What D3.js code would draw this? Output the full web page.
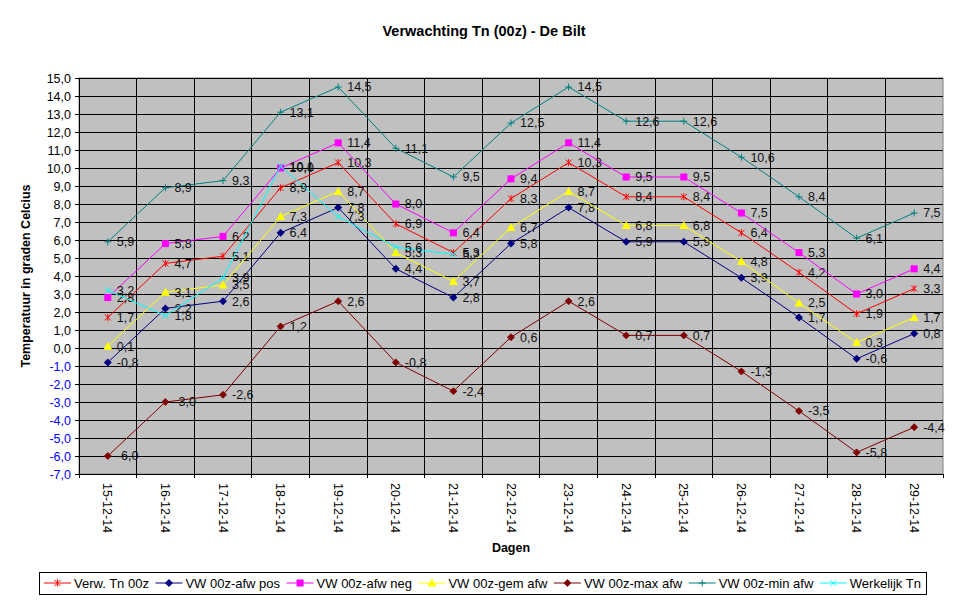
<!DOCTYPE html>
<html>
<head>
<meta charset="utf-8">
<script src="https://cdn.jsdelivr.net/npm/d3@7/dist/d3.min.js"></script>
<style>
  body { margin: 0; background: #fff; }
  text { font-family: Arial, "Liberation Sans", sans-serif; }
</style>
</head>
<body>
<div id="chart"></div>
<script>
const dagen = ["15-12-14", "16-12-14", "17-12-14", "18-12-14", "19-12-14", "20-12-14", "21-12-14",
  "22-12-14", "23-12-14", "24-12-14", "25-12-14", "26-12-14", "27-12-14", "28-12-14", "29-12-14"];

const verwTn    = [1.7, 4.7, 5.1, 8.9, 10.3, 6.9, 5.3, 8.3, 10.3, 8.4, 8.4, 6.4, 4.2, 1.9, 3.3];
const afwPos    = [-0.8, 2.2, 2.6, 6.4, 7.8, 4.4, 2.8, 5.8, 7.8, 5.9, 5.9, 3.9, 1.7, -0.6, 0.8];
const afwNeg    = [2.8, 5.8, 6.2, 10.0, 11.4, 8.0, 6.4, 9.4, 11.4, 9.5, 9.5, 7.5, 5.3, 3.0, 4.4];
const gemAfw    = [0.1, 3.1, 3.5, 7.3, 8.7, 5.3, 3.7, 6.7, 8.7, 6.8, 6.8, 4.8, 2.5, 0.3, 1.7];
const maxAfw    = [-6.0, -3.0, -2.6, 1.2, 2.6, -0.8, -2.4, 0.6, 2.6, 0.7, 0.7, -1.3, -3.5, -5.8, -4.4];
const minAfw    = [5.9, 8.9, 9.3, 13.1, 14.5, 11.1, 9.5, 12.5, 14.5, 12.6, 12.6, 10.6, 8.4, 6.1, 7.5];
const werkelijk = [3.2, 1.8, 3.9, 10.1, 7.3, 5.6, 5.2, null, null, null, null, null, null, null, null];

const yTicks = d3.range(-7, 16, 1);

const series = [
  { name: "Verw. Tn 00z",   values: verwTn,    color: "#ff0000", marker: "star" },
  { name: "VW 00z-afw pos", values: afwPos,    color: "#000080", marker: "diamond" },
  { name: "VW 00z-afw neg", values: afwNeg,    color: "#ff00ff", marker: "square" },
  { name: "VW 00z-gem afw", values: gemAfw,    color: "#ffff00", marker: "triangle" },
  { name: "VW 00z-max afw", values: maxAfw,    color: "#800000", marker: "dot" },
  { name: "VW 00z-min afw", values: minAfw,    color: "#008080", marker: "plus" },
  { name: "Werkelijk Tn",   values: werkelijk, color: "#00ffff", marker: "cross" }
];

const width = 969, height = 602;
const plot = { left: 79, right: 943, top: 78, bottom: 474 };

const svg = d3.select("#chart").append("svg")
  .attr("width", width)
  .attr("height", height);

const x = d3.scaleBand()
  .domain(dagen)
  .range([plot.left, plot.right]);

const y = d3.scaleLinear()
  .domain([-7, 15])
  .range([plot.bottom, plot.top]);

// Dutch number style: comma decimal, plain hyphen minus
const fmt = v => d3.format(".1f")(v).replace(".", ",").replace("\u2212", "-");

// plot background
svg.append("rect")
  .attr("x", plot.left)
  .attr("y", plot.top)
  .attr("width", plot.right - plot.left)
  .attr("height", plot.bottom - plot.top)
  .attr("fill", "#c0c0c0")
  .attr("stroke", "#808080");

// gridlines
svg.append("g")
  .selectAll("line")
  .data(yTicks.slice(1))
  .join("line")
  .attr("x1", plot.left)
  .attr("x2", plot.right)
  .attr("y1", d => y(d))
  .attr("y2", d => y(d))
  .attr("stroke", "#000")
  .attr("shape-rendering", "crispEdges");

svg.append("g")
  .selectAll("line")
  .data(dagen.slice(1))
  .join("line")
  .attr("x1", d => x(d))
  .attr("x2", d => x(d))
  .attr("y1", plot.top)
  .attr("y2", plot.bottom)
  .attr("stroke", "#000")
  .attr("shape-rendering", "crispEdges");

// y axis
const yAxis = svg.append("g")
  .attr("transform", `translate(${plot.left},0)`)
  .call(d3.axisLeft(y).tickValues(yTicks).tickSize(4).tickPadding(4).tickFormat(fmt));
yAxis.select(".domain").attr("stroke", "#000").attr("shape-rendering", "crispEdges");
yAxis.selectAll(".tick line").attr("stroke", "#000").attr("shape-rendering", "crispEdges");
yAxis.selectAll("text")
  .attr("font-size", 12.5)
  .attr("font-family", "Arial, 'Liberation Sans', sans-serif")
  .attr("fill", d => d < 0 ? "#0000ff" : "#000");

// x axis: ticks at category boundaries
const xg = svg.append("g");
xg.append("line")
  .attr("x1", plot.left).attr("x2", plot.right)
  .attr("y1", plot.bottom).attr("y2", plot.bottom)
  .attr("stroke", "#000")
  .attr("shape-rendering", "crispEdges");
xg.selectAll("line.tk")
  .data(dagen.concat(["__end"]))
  .join("line")
  .attr("class", "tk")
  .attr("x1", (d, i) => plot.left + i * x.bandwidth())
  .attr("x2", (d, i) => plot.left + i * x.bandwidth())
  .attr("y1", plot.bottom)
  .attr("y2", plot.bottom + 4)
  .attr("stroke", "#000")
  .attr("shape-rendering", "crispEdges");
xg.selectAll("text")
  .data(dagen)
  .join("text")
  .attr("transform", d => `translate(${x(d) + x.bandwidth() / 2},${plot.bottom + 9}) rotate(90)`)
  .attr("dy", "0.35em")
  .attr("font-size", 12.5)
  .attr("text-anchor", "start")
  .text(d => d);

// titles
svg.append("text")
  .attr("x", 484).attr("y", 36)
  .attr("text-anchor", "middle")
  .attr("font-size", 14.5)
  .attr("font-weight", "bold")
  .text("Verwachting Tn (00z) - De Bilt");

svg.append("text")
  .attr("transform", `translate(30,${(plot.top + plot.bottom) / 2}) rotate(-90)`)
  .attr("text-anchor", "middle")
  .attr("font-size", 12.5)
  .attr("font-weight", "bold")
  .text("Temperatuur in graden Celcius");

svg.append("text")
  .attr("x", (plot.left + plot.right) / 2)
  .attr("y", 552)
  .attr("text-anchor", "middle")
  .attr("font-size", 12.5)
  .attr("font-weight", "bold")
  .text("Dagen");

// markers
function drawMarker(g, type, color) {
  if (type === "star") {
    g.append("path").attr("d", "M-3,-3L3,3M-3,3L3,-3M0,-3.5L0,3.5")
      .attr("stroke", color).attr("stroke-width", 1).attr("fill", "none");
  } else if (type === "diamond") {
    g.append("path").attr("d", "M0,-4L4,0L0,4L-4,0Z").attr("fill", color);
  } else if (type === "square") {
    g.append("rect").attr("x", -3.5).attr("y", -3.5).attr("width", 7).attr("height", 7).attr("fill", color);
  } else if (type === "triangle") {
    g.append("path").attr("d", "M0,-4.5L4.5,3.5L-4.5,3.5Z").attr("fill", color);
  } else if (type === "dot") {
    g.append("path").attr("d", "M0,-3.5L3.5,0L0,3.5L-3.5,0Z").attr("fill", color)
      .attr("stroke", color).attr("stroke-width", 0.8).attr("stroke-linejoin", "round");
  } else if (type === "plus") {
    g.append("path").attr("d", "M-3.5,0L3.5,0M0,-3.5L0,3.5")
      .attr("stroke", color).attr("stroke-width", 1).attr("fill", "none");
  } else if (type === "cross") {
    g.append("path").attr("d", "M-3,-3L3,3M-3,3L3,-3")
      .attr("stroke", color).attr("stroke-width", 1).attr("fill", "none");
  }
}

const line = d3.line()
  .defined(d => d.v !== null)
  .x(d => x(d.dag) + x.bandwidth() / 2)
  .y(d => y(d.v));

series.forEach(s => {
  const pts = s.values.map((v, i) => ({ dag: dagen[i], v }));
  const g = svg.append("g");
  g.append("path")
    .datum(pts)
    .attr("d", line)
    .attr("fill", "none")
    .attr("stroke", s.color)
    .attr("stroke-width", 1);
  pts.filter(d => d.v !== null).forEach(d => {
    const m = g.append("g")
      .attr("transform", `translate(${x(d.dag) + x.bandwidth() / 2},${y(d.v)})`);
    drawMarker(m, s.marker, s.color);
  });
  g.selectAll("text")
    .data(pts.filter(d => d.v !== null))
    .join("text")
    .attr("x", d => x(d.dag) + x.bandwidth() / 2 + 9)
    .attr("y", d => y(d.v))
    .attr("dy", "0.35em")
    .attr("font-size", 12.5)
    .attr("fill", "#111")
    .text(d => fmt(d.v));
});

// legend
const legend = svg.append("g");
const legBox = { x: 39, y: 572, w: 887, h: 22 };
legend.append("rect")
  .attr("x", legBox.x).attr("y", legBox.y)
  .attr("width", legBox.w).attr("height", legBox.h)
  .attr("fill", "#fff").attr("stroke", "#000")
  .attr("shape-rendering", "crispEdges");

let lx = 44;
const ly = legBox.y + legBox.h / 2;
series.forEach(s => {
  const item = legend.append("g");
  item.append("line")
    .attr("x1", lx).attr("x2", lx + 27)
    .attr("y1", ly).attr("y2", ly)
    .attr("stroke", s.color);
  const m = item.append("g").attr("transform", `translate(${lx + 13.5},${ly})`);
  drawMarker(m, s.marker, s.color);
  const t = item.append("text")
    .attr("x", lx + 30).attr("y", ly)
    .attr("dy", "0.35em")
    .attr("font-size", 13)
    .text(s.name);
  lx += 30 + t.node().getComputedTextLength() + 6.5;
});
</script>
</body>
</html>
